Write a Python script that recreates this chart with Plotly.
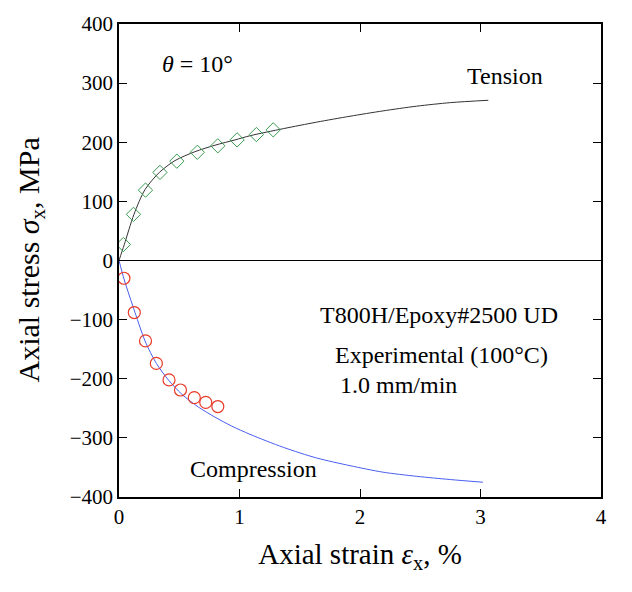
import plotly.graph_objects as go

# Tension experimental points
ten_x = [0.036, 0.12, 0.22, 0.34, 0.48, 0.65, 0.82, 0.98, 1.14, 1.28]
ten_y = [27, 78, 119, 149, 168, 183, 194, 204, 213, 221]
# Tension model curve
ten_cx = [0, 0.044, 0.124, 0.216, 0.335, 0.465, 0.63, 0.797, 0.963, 1.087, 1.364, 1.64, 1.917, 2.19, 2.47, 2.75, 3.065]
ten_cy = [0, 27, 78, 120, 149, 169, 184, 195, 204, 211, 223, 234, 244, 253, 261, 267, 271]
# Compression experimental points
com_x = [0.041, 0.127, 0.22, 0.31, 0.415, 0.51, 0.625, 0.72, 0.82]
com_y = [-30, -88, -136, -174, -202, -219, -232, -240, -247]
# Compression model curve
com_cx = [0, 0.044, 0.133, 0.216, 0.31, 0.41, 0.52, 0.66, 0.797, 0.935, 1.087, 1.364, 1.64, 1.917, 2.19, 2.47, 2.75, 3.02]
com_cy = [0, -33, -88, -136, -174, -202, -226, -248, -265, -280, -294, -316, -334, -347, -358, -365, -370.5, -375]

FONT = "Times New Roman, Liberation Serif, DejaVu Serif, serif"

fig = go.Figure()
fig.add_trace(go.Scatter(x=ten_cx, y=ten_cy, mode="lines", line=dict(color="#333333", width=1, shape="spline", smoothing=0.8)))
fig.add_trace(go.Scatter(x=com_cx, y=com_cy, mode="lines", line=dict(color="#4a5ef0", width=1, shape="spline", smoothing=0.8)))
fig.add_trace(go.Scatter(x=ten_x, y=ten_y, mode="markers",
                         marker=dict(symbol="diamond-open", size=11, color="#3a9a50", line=dict(width=1, color="#3a9a50"))))
fig.add_trace(go.Scatter(x=com_x, y=com_y, mode="markers",
                         marker=dict(symbol="circle-open", size=12, color="#e83a28", line=dict(width=1.2, color="#e83a28"))))

axis_common = dict(showline=True, linecolor="black", linewidth=1.5, mirror="ticks", ticks="inside",
                   ticklen=8, tickcolor="black", showgrid=False,
                   tickfont=dict(family=FONT, size=21, color="black"))
fig.update_xaxes(range=[0, 4], tickvals=[0, 1, 2, 3, 4], zeroline=False,
                 title=dict(text="Axial strain <i>ε</i><sub>x</sub>, %", font=dict(family=FONT, size=29, color="black"), standoff=16),
                 **axis_common)
fig.update_yaxes(range=[-400, 400], tickvals=[-400, -300, -200, -100, 0, 100, 200, 300, 400],
                 zeroline=True, zerolinecolor="black", zerolinewidth=1,
                 **axis_common)

fig.add_annotation(xref="paper", yref="paper", x=-(119 - 30) / 482, y=0.5,
                   text="Axial stress <i>σ</i><sub>x</sub>, MPa", textangle=-90, showarrow=False,
                   font=dict(family=FONT, size=30, color="black"), xanchor="center", yanchor="middle")

ann_font = dict(family=FONT, size=24, color="black")
anns = [
    dict(x=0.34, y=333, text="<i>θ</i> = 10°", xanchor="left"),
    dict(x=2.87, y=312, text="Tension", xanchor="left"),
    dict(x=1.65, y=-93, text="T800H/Epoxy#2500 UD", xanchor="left"),
    dict(x=1.78, y=-160, text="Experimental (100°C)", xanchor="left"),
    dict(x=1.82, y=-210, text="1.0 mm/min", xanchor="left"),
    dict(x=0.57, y=-352, text="Compression", xanchor="left"),
]
for a in anns:
    fig.add_annotation(showarrow=False, font=ann_font, yanchor="middle", **a)

fig.update_layout(width=632, height=592, margin=dict(l=119, r=31, t=17, b=95),
                  plot_bgcolor="white", paper_bgcolor="white", showlegend=False)
fig.write_html("out.html")
